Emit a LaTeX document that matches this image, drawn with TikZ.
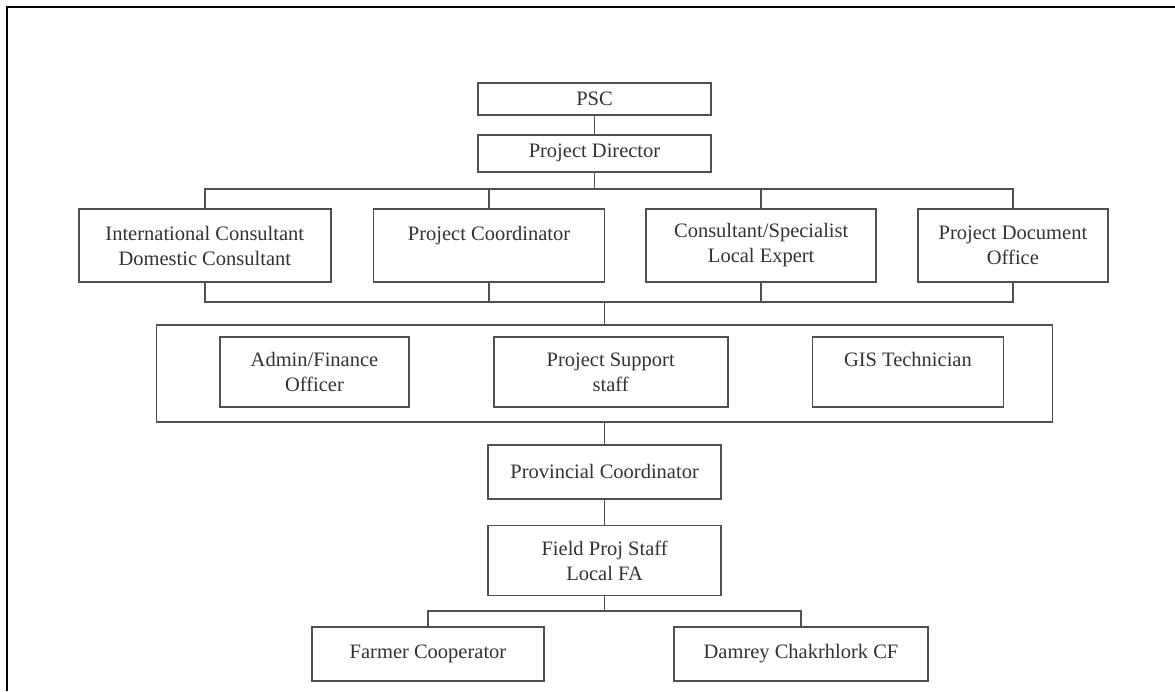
\documentclass[tikz,border=0pt]{standalone}
\usepackage{fontspec}
\setmainfont{Liberation Serif}
\usepackage{xcolor}
\usepackage{tikz}
\usetikzlibrary{positioning}
\definecolor{boxline}{HTML}{505050}
\definecolor{boxtext}{HTML}{333333}

\begin{document}
\begin{tikzpicture}[
  x=1pt, y=-1pt,
  unit/.style={draw=boxline, line width=1.7pt, fill=white, minimum width=233pt, align=center, text=boxtext, font=\fontsize{20.5}{25}\selectfont, inner sep=2pt},
  link/.style={draw=boxline, line width=1.7pt}
]
\useasboundingbox (0,0) rectangle (1175,691);
\draw[line width=2.4pt] (7,691) -- (7,7) -- (1175,7);
% top of the chart
\node[unit, minimum height=32pt] (psc) at (594.5,99) {PSC};
\node[unit, minimum height=37pt, below=18pt of psc] (dir) {Project Director};
% advisers and coordinators
\node[unit, minimum width=252pt, minimum height=73pt] (intl) at (204.8,245.5) {International Consultant\\ Domestic Consultant};
\node[unit, minimum width=231pt, minimum height=73pt, right=41pt of intl] (coord) {Project Coordinator\\ ~};
\node[unit, minimum width=230pt, minimum height=73pt, right=40pt of coord] (cons) {Consultant/Specialist\\ Local Expert};
\node[unit, minimum width=190pt, minimum height=73pt, right=40pt of cons] (doc) {Project Document\\ Office};
% support staff group
\node[unit, minimum width=896pt, minimum height=97pt] (grp) at (604.6,373.5) {};
\node[unit, minimum width=189pt, minimum height=70pt] (admin) at (314.5,372) {Admin/Finance\\ Officer};
\node[unit, minimum width=234pt, minimum height=70pt, right=83pt of admin] (supp) {Project Support\\ staff};
\node[unit, minimum width=191pt, minimum height=70pt, right=83pt of supp] (gis) {GIS Technician\\ ~};
% field level
\node[unit, minimum height=54pt, below=21pt of grp] (prov) {Provincial Coordinator};
\node[unit, minimum height=70pt, below=25pt of prov] (field) {Field Proj Staff\\ Local FA};
\node[unit, minimum width=231.5pt, minimum height=54pt] (farm) at (428,654) {Farmer Cooperator};
\node[unit, minimum width=254pt, minimum height=54pt] (cf) at (801,654) {Damrey Chakrhlork CF};
\coordinate (bus1) at (0,189);
\coordinate (bus2) at (0,302);
\coordinate (bus3) at (0,611);
\draw[link] (psc) -- (dir);
\draw[link] (dir.south) -- (dir.south |- bus1);
\draw[link] (intl.north) |- (doc.north |- bus1) -- (doc.north);
\draw[link] (coord.north) -- (coord.north |- bus1);
\draw[link] (cons.north) -- (cons.north |- bus1);
\draw[link] (intl.south) |- (doc.south |- bus2) -- (doc.south);
\draw[link] (coord.south) -- (coord.south |- bus2);
\draw[link] (cons.south) -- (cons.south |- bus2);
\draw[link] (grp.north |- bus2) -- (grp.north);
\draw[link] (grp) -- (prov);
\draw[link] (prov) -- (field);
\draw[link] (field.south) -- (field.south |- bus3);
\draw[link] (farm.north) |- (cf.north |- bus3) -- (cf.north);
\end{tikzpicture}
\end{document}
